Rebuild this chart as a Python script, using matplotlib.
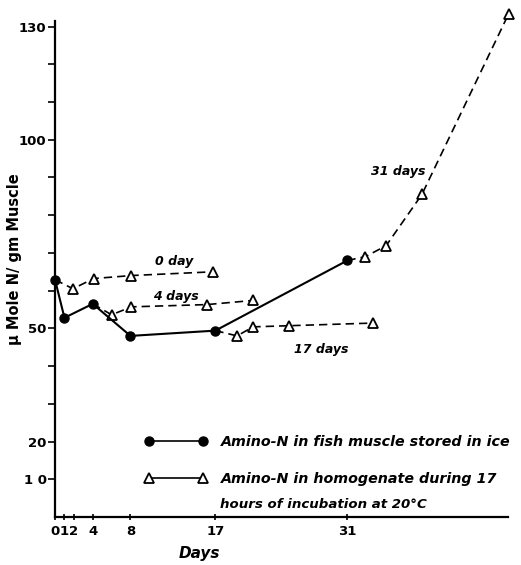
#!/usr/bin/env python3
"""Amino-N in fish muscle stored in ice, with homogenate incubation curves."""

import matplotlib
matplotlib.use("Agg")
import matplotlib.pyplot as plt
from matplotlib.lines import Line2D

# fish muscle stored in ice (filled circles, solid line)
ice_days = [0, 1, 4, 8, 17, 31]
ice_amino = [62.9, 52.8, 56.5, 48.0, 49.4, 68.0]

# homogenate incubation curves (open triangles, dashed), first point = start dot
h0_x = [0, 1.9, 4.1, 8.1, 16.8]
h0_y = [62.9, 60.5, 63.2, 64.0, 65.0]
h4_x = [4, 6.0, 8.1, 16.1, 21.0]
h4_y = [56.5, 53.6, 55.7, 56.3, 57.4]
h17_x = [17, 19.3, 21.0, 24.8, 33.7]
h17_y = [49.4, 48.0, 50.4, 50.7, 51.4]
h31_x = [31, 32.9, 35.1, 38.9, 48.1]
h31_y = [68.0, 69.0, 71.9, 85.5, 133.4]

curves = [(h0_x, h0_y, "0 day", (12.6, 67.7)),
          (h4_x, h4_y, "4 days", (12.8, 58.4)),
          (h17_x, h17_y, "17 days", (28.2, 44.3)),
          (h31_x, h31_y, "31 days", (36.4, 91.6))]

xticks = [0, 1, 2, 4, 8, 17, 31]
yticks = list(range(10, 131, 10))
ylabels = {10: "1 0", 20: "20", 50: "50", 100: "100", 130: "130"}

plt.rcParams["font.family"] = "DejaVu Sans"

fig = plt.figure(figsize=(5.21, 5.65), dpi=100)
ax = fig.add_axes([0.1056, 0.085, 0.869, 0.878])

dash = (0, (5, 3))
for x, y, name, pos in curves:
    ax.plot(x, y, color="black", lw=1.2, linestyle=dash, clip_on=False)
    ax.plot(x[1:], y[1:], linestyle="none", marker="^", ms=6.5,
            mfc="white", mec="black", mew=1.3, clip_on=False)
    ax.text(pos[0], pos[1], name, ha="center", va="center", fontsize=9,
            fontweight="bold", fontstyle="italic")

ax.plot(ice_days, ice_amino, color="black", lw=1.5, marker="o", ms=6.5,
        clip_on=False, zorder=3)

ax.set_xlim(0, 48)
ax.set_ylim(0, 131.5)
for s in ("top", "right"):
    ax.spines[s].set_visible(False)
for s in ("left", "bottom"):
    ax.spines[s].set_linewidth(1.6)

ax.set_xticks(xticks)
ax.set_xticklabels([str(v) for v in xticks], fontsize=9.5, fontweight="bold")
ax.set_yticks(yticks)
ax.set_yticklabels([ylabels.get(v, "") for v in yticks], fontsize=9.5,
                   fontweight="bold")
ax.tick_params(axis="y", direction="out", length=5, width=1.2, pad=1)
ax.tick_params(axis="x", direction="inout", length=5, width=1.2, pad=3)

ax.set_xlabel("Days", fontsize=11, fontweight="bold", fontstyle="italic",
              labelpad=1)
ax.xaxis.set_label_coords(0.32, -0.058)
ax.set_ylabel("\u00b5 Mole N/ gm Muscle", fontsize=10.5, fontweight="bold",
              labelpad=6)
ax.yaxis.set_label_coords(-0.072, 0.52)

handles = [
    Line2D([], [], color="black", lw=1.2, marker="o", ms=6.5),
    Line2D([], [], color="black", lw=1.2, marker="^", ms=6.5, mfc="white",
           mew=1.3),
]
labels = ["Amino-N in fish muscle stored in ice",
          "Amino-N in homogenate during 17"]
ax.legend(handles, labels, loc="upper left",
          bbox_to_anchor=(0.198, 0.166), frameon=False, numpoints=2,
          borderpad=0, borderaxespad=0,
          handlelength=4.4, handletextpad=0.9, labelspacing=1.65,
          prop={"size": 10.3, "weight": "bold", "style": "italic"})
ax.text(0.364, 0.026, "hours of incubation at 20\u00b0C",
        transform=ax.transAxes, fontsize=9.6, fontweight="bold",
        fontstyle="italic", ha="left", va="center")

fig.savefig("out.png", dpi=100)
